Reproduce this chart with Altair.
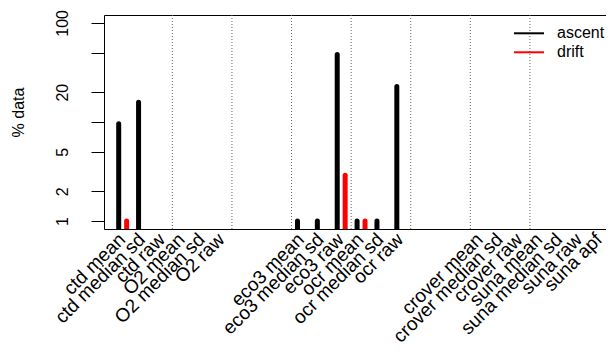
import altair as alt
import pandas as pd

# ---- data ----
categories = ["ctd mean", "ctd median sd", "ctd raw", "O2 mean", "O2 median sd", "O2 raw",
              "", "", "",
              "eco3 mean", "eco3 median sd", "eco3 raw", "ocr mean", "ocr median sd", "ocr raw",
              "", "", "",
              "crover mean", "crover median sd", "crover raw",
              "suna mean", "suna median sd", "suna raw", "suna apf"]
ascent_cats = ["ctd mean", "ctd median sd", "eco3 mean", "eco3 median sd", "eco3 raw",
               "ocr mean", "ocr median sd", "ocr raw"]
ascent_vals = [9.6, 15.8, 1, 1, 48, 1, 1, 22.8]
drift_cats = ["ctd mean", "eco3 raw", "ocr mean"]
drift_vals = [1, 2.9, 1]
separators = [2.5, 5.5, 8.5, 11.5, 14.5, 17.5, 20.5]
series = ["ascent", "drift"]
colors = ["black", "red"]
y_ticks = [1, 2, 5, 10, 20, 50, 100]
y_labels = ["1", "2", "5", "", "20", "", "100"]

FONT = "Liberation Sans"
W, H = 502, 214

rows = []
for c, v in zip(ascent_cats, ascent_vals):
    rows.append({"cat": c, "series": "ascent", "value": v, "pos": categories.index(c) - 0.2})
for c, v in zip(drift_cats, drift_vals):
    rows.append({"cat": c, "series": "drift", "value": v, "pos": categories.index(c) + 0.2})
bars_df = pd.DataFrame(rows)
sep_df = pd.DataFrame({"sep": separators})
leg_df = pd.DataFrame({"series": series})

xscale = alt.Scale(domain=[-0.94, 24.33], nice=False, zero=False)
yscale = alt.Scale(type="log", domain=[10 ** -0.08, 10 ** 2.08], nice=False)

label_pos = [i for i, c in enumerate(categories) if c]
cat_js = "[" + ",".join("'" + c + "'" for c in categories) + "]"
ylab_js = "{" + ",".join("'%s':'%s'" % (t, l) for t, l in zip(y_ticks, y_labels)) + "}"

bars = alt.Chart(bars_df).mark_rule(strokeWidth=5, strokeCap="round", clip=True).encode(
    x=alt.X("pos:Q", scale=xscale,
            axis=alt.Axis(values=label_pos, labelExpr=cat_js + "[round(datum.value)]",
                          labelAngle=-45, labelAlign="right", labelBaseline="middle",
                          labelPadding=7, labelOffset=-1, ticks=False, domain=True,
                          domainColor="black", domainWidth=1, grid=False, title=None,
                          labelFont=FONT, labelFontSize=19, labelColor="black",
                          labelOverlap=False, labelBound=False, labelFlush=False,
                          orient="bottom")),
    y=alt.Y("value:Q", scale=yscale,
            axis=alt.Axis(values=y_ticks, labelExpr=ylab_js + "[datum.value]",
                          labelAngle=270, labelAlign="center", labelBaseline="alphabetic",
                          tickSize=13, tickColor="black", tickWidth=1, labelPadding=24,
                          domain=True, domainColor="black", domainWidth=1, grid=False,
                          labelFont=FONT, labelFontSize=16, labelColor="black",
                          labelOverlap=False, labelBound=False, labelFlush=False,
                          title="% data", titleFont=FONT, titleFontSize=16,
                          titleFontWeight="normal", titleColor="black", titleAngle=270,
                          titleAlign="center", titleBaseline="alphabetic",
                          titleX=-81, titleY=97)),
    y2=alt.value(H),
    color=alt.Color("series:N", scale=alt.Scale(domain=series, range=colors), legend=None),
)

seps = alt.Chart(sep_df).mark_rule(color="#666666", strokeWidth=1, strokeDash=[1, 2]).encode(
    x=alt.X("sep:Q", scale=xscale,
            axis=alt.Axis(orient="top", labels=False, ticks=False, domain=True,
                          domainColor="black", domainWidth=1, grid=False, title=None)),
)

leg_lines = []
leg_texts = []
for i, s in enumerate(series):
    ypix = 18.3 + 19 * i
    leg_lines.append(
        alt.Chart(leg_df).transform_filter(alt.datum.series == s)
        .mark_rule(strokeWidth=2)
        .encode(x=alt.value(410), x2=alt.value(440), y=alt.value(ypix),
                color=alt.value(colors[i]))
    )
    leg_texts.append(
        alt.Chart(leg_df).transform_filter(alt.datum.series == s)
        .mark_text(align="left", baseline="middle", font=FONT, fontSize=16, color="black")
        .encode(x=alt.value(453), y=alt.value(ypix), text="series:N")
    )

chart = alt.layer(seps, bars, *leg_lines, *leg_texts).resolve_axis(x="independent").properties(
    width=W, height=H,
    autosize=alt.AutoSizeParams(type="none"),
    padding={"left": 96, "top": 7, "right": 0, "bottom": 118},
).configure_view(stroke=None)

chart.save("out.html", embed_options={"renderer": "svg", "actions": False})
